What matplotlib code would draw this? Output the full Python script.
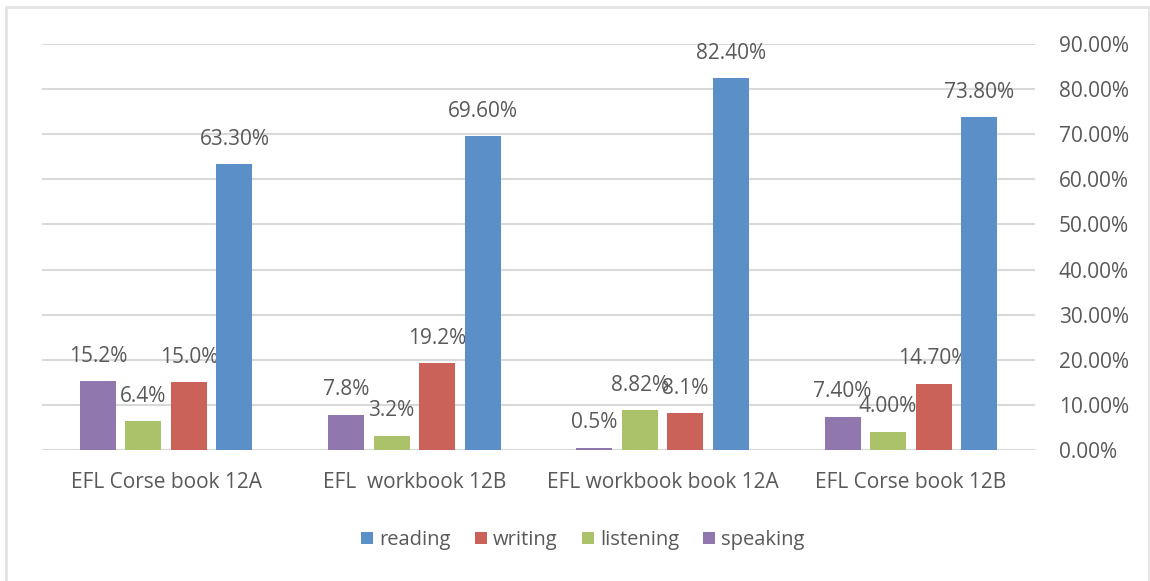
import matplotlib.pyplot as plt
import matplotlib.patches as mpatches
from matplotlib.ticker import FuncFormatter
import numpy as np

# Data (fractions)
categories = ['EFL Corse book 12A', 'EFL  workbook 12B', 'EFL workbook book 12A', 'EFL Corse book 12B']
speaking = [0.152, 0.078, 0.005, 0.074]
listening = [0.064, 0.032, 0.0882, 0.040]
writing = [0.150, 0.192, 0.081, 0.147]
reading = [0.633, 0.696, 0.824, 0.738]

speaking_lbl = ['15.2%', '7.8%', '0.5%', '7.40%']
listening_lbl = ['6.4%', '3.2%', '8.82%', '4.00%']
writing_lbl = ['15.0%', '19.2%', '8.1%', '14.70%']
reading_lbl = ['63.30%', '69.60%', '82.40%', '73.80%']

colors = {'reading': '#5b8fc7', 'writing': '#cb625a',
          'listening': '#abc26a', 'speaking': '#9078ae'}
text_color = '#595959'
grid_color = '#d9d9d9'

plt.rcParams['font.family'] = ['Open Sans', 'DejaVu Sans']

fig = plt.figure(figsize=(11.5, 5.81), dpi=100)
ax = fig.add_axes([42 / 1150, 131 / 581, 993 / 1150, 406 / 581])

x = np.arange(len(categories))
pitch = 0.1835
width = 0.145

series = [('speaking', speaking, speaking_lbl),
          ('listening', listening, listening_lbl),
          ('writing', writing, writing_lbl),
          ('reading', reading, reading_lbl)]

handles = {}
for i, (name, vals, lbls) in enumerate(series):
    pos = x + (i - 1.5) * pitch
    bars = ax.bar(pos, vals, width, color=colors[name], label=name, zorder=3)
    handles[name] = bars
    # labels overlap in the original too (8.82% / 8.1%)
    for p, v, t in zip(pos, vals, lbls):
        ax.annotate(t, (p, v), xytext=(0, 18), textcoords='offset points',
                    ha='center', va='center', fontsize=15, color=text_color)

ax.set_xlim(-0.5, 3.5)
ax.set_ylim(0, 0.9)
ax.set_yticks(np.arange(0, 0.91, 0.1))
ax.yaxis.set_major_formatter(FuncFormatter(lambda v, _: f'{v * 100:.2f}%'))
ax.yaxis.tick_right()
ax.grid(axis='y', color=grid_color, linewidth=1.5, zorder=0)
ax.set_axisbelow(True)
for s in ax.spines.values():
    s.set_visible(False)
ax.axhline(0, color=grid_color, linewidth=1.5, zorder=2)

ax.set_xticks(x)
ax.set_xticklabels(categories)
ax.tick_params(axis='x', length=0, pad=16, labelsize=15, labelcolor=text_color)
ax.tick_params(axis='y', length=0, pad=17, labelsize=15, labelcolor=text_color)

order = ['reading', 'writing', 'listening', 'speaking']
fig.legend([handles[n] for n in order], order, loc='center', ncol=4,
           bbox_to_anchor=(0.507, 1 - 540 / 581), frameon=False,
           fontsize=14.5, labelcolor=text_color, handlelength=0.6,
           handleheight=0.6, handletextpad=0.3, columnspacing=1.2)

# light frame around the chart
fig.patches.append(mpatches.Rectangle((6 / 1150, -0.02), 1143 / 1150, 1 - 7 / 581 + 0.02,
                                      transform=fig.transFigure, fill=False,
                                      edgecolor='#e3e3e3', linewidth=2))

fig.savefig('out.png', dpi=100)
